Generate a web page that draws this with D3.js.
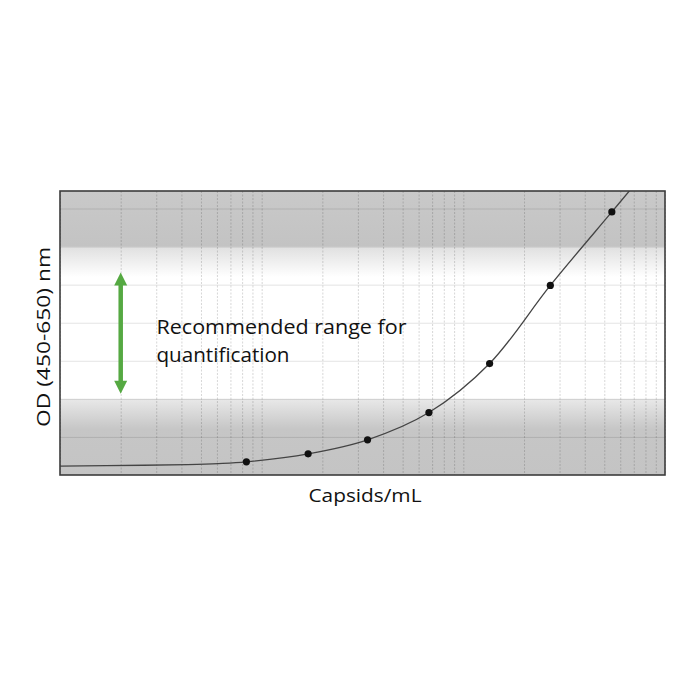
<!DOCTYPE html>
<html>
<head>
<meta charset="utf-8">
<script src="https://cdn.jsdelivr.net/npm/d3@7"></script>
<style>
  html, body { margin: 0; padding: 0; background: #fff; }
  svg { display: block; }
  text { font-family: "Open Sans", "DejaVu Sans", sans-serif; fill: #111; }
</style>
</head>
<body>
<svg id="chart" width="700" height="700"></svg>
<script>
// standard points (capsids/mL vs OD)
const conc = [8.4e8, 1.7e9, 3.35e9, 6.75e9, 1.35e10, 2.7e10, 5.45e10];
const od = [0.173, 0.278, 0.462, 0.82, 1.464, 2.49, 3.455];

// fitted curve
const fitConc = [1e8, 2.6e8, 4.3e8, 6.1e8, 8.4e8, 1.7e9, 3.35e9, 6.75e9, 1.35e10, 2.7e10, 5.45e10, 7e10];
const fitOD = [0.117, 0.128, 0.137, 0.15, 0.173, 0.278, 0.462, 0.82, 1.464, 2.49, 3.455, 3.8];

// recommended range for quantification (OD)
const rangeLow = 1.0;
const rangeHigh = 3.0;

const xDomain = [1e8, 1e11];
const yDomain = [0, 3.73];
const yTicks = [0.5, 1, 1.5, 2, 2.5, 3, 3.5];

const margin = { left: 60, right: 35, top: 191, bottom: 225 };
const width = 700, height = 700;

const svg = d3.select("#chart");

const x = d3.scaleLog()
  .domain(xDomain)
  .range([margin.left, width - margin.right]);

const y = d3.scaleLinear()
  .domain(yDomain)
  .range([height - margin.bottom, margin.top]);

const pw = x.range()[1] - x.range()[0];
const ph = y.range()[0] - y.range()[1];

// background shading
const defs = svg.append("defs");
const grad = defs.append("linearGradient")
  .attr("id", "bg")
  .attr("gradientUnits", "userSpaceOnUse")
  .attr("x1", 0).attr("x2", 0)
  .attr("y1", y.range()[1]).attr("y2", y.range()[0]);
const off = v => (y(v) - y.range()[1]) / ph;
[
  [0, "#c9c9c9"],
  [off(rangeHigh) - 0.002, "#c3c3c3"],
  [off(rangeHigh) + 0.002, "#e0e0e0"],
  [off(2.6), "#ffffff"],
  [off(rangeLow) - 0.002, "#ffffff"],
  [off(rangeLow) + 0.002, "#e8e8e8"],
  [off(0.6), "#c6c6c6"],
  [1, "#c4c4c4"]
].forEach(([o, c]) => grad.append("stop").attr("offset", o).attr("stop-color", c));

defs.append("clipPath").attr("id", "clip")
  .append("rect")
  .attr("x", x.range()[0]).attr("y", y.range()[1])
  .attr("width", pw).attr("height", ph);

svg.append("rect")
  .attr("x", x.range()[0]).attr("y", y.range()[1])
  .attr("width", pw).attr("height", ph)
  .attr("fill", "url(#bg)");

// grid: dotted verticals on the log axis, solid horizontals
svg.append("g")
  .attr("stroke", "#000")
  .attr("stroke-opacity", 0.16)
  .attr("stroke-dasharray", "2,1.5")
  .selectAll("line")
  .data(x.ticks())
  .join("line")
  .attr("x1", d => x(d) + 0.5).attr("x2", d => x(d) + 0.5)
  .attr("y1", y.range()[1]).attr("y2", y.range()[0]);

svg.append("g")
  .attr("stroke", "#000")
  .attr("stroke-opacity", 0.11)
  .selectAll("line")
  .data(yTicks)
  .join("line")
  .attr("x1", x.range()[0]).attr("x2", x.range()[1])
  .attr("y1", d => y(d) + 0.5).attr("y2", d => y(d) + 0.5);

// fitted curve
const line = d3.line()
  .x((d, i) => x(fitConc[i]))
  .y(d => y(d))
  .curve(d3.curveCatmullRom.alpha(0.5));

svg.append("path")
  .datum(fitOD)
  .attr("clip-path", "url(#clip)")
  .attr("fill", "none")
  .attr("stroke", "#444")
  .attr("stroke-width", 1.3)
  .attr("d", line);

svg.append("g")
  .selectAll("circle")
  .data(od)
  .join("circle")
  .attr("cx", (d, i) => x(conc[i]))
  .attr("cy", d => y(d))
  .attr("r", 3.6)
  .attr("fill", "#111");

// frame
svg.append("rect")
  .attr("x", x.range()[0]).attr("y", y.range()[1])
  .attr("width", pw).attr("height", ph)
  .attr("fill", "none")
  .attr("stroke", "#3c3c3c")
  .attr("stroke-width", 1.6);

// green double arrow showing the recommended range
const ax = x(2e8);
const green = "#55a942";
const aTop = y(rangeHigh) + 26, aBot = y(rangeLow) - 5;
svg.append("line")
  .attr("x1", ax).attr("x2", ax)
  .attr("y1", aTop + 10).attr("y2", aBot - 10)
  .attr("stroke", green)
  .attr("stroke-width", 4.5);
svg.append("path")
  .attr("fill", green)
  .attr("d", `M${ax},${aTop} L${ax - 6.5},${aTop + 13} L${ax + 6.5},${aTop + 13} Z`);
svg.append("path")
  .attr("fill", green)
  .attr("d", `M${ax},${aBot} L${ax - 6.5},${aBot - 13} L${ax + 6.5},${aBot - 13} Z`);

svg.append("text")
  .attr("x", 156.5).attr("y", 334)
  .attr("font-size", 19.5)
  .attr("textLength", 250)
  .attr("lengthAdjust", "spacingAndGlyphs")
  .text("Recommended range for");
svg.append("text")
  .attr("x", 156.5).attr("y", 361.5)
  .attr("font-size", 19.5)
  .attr("textLength", 133)
  .attr("lengthAdjust", "spacingAndGlyphs")
  .text("quantification");

// axis titles
svg.append("text")
  .attr("x", 365).attr("y", 502)
  .attr("text-anchor", "middle")
  .attr("font-size", 18)
  .attr("textLength", 113)
  .attr("lengthAdjust", "spacingAndGlyphs")
  .text("Capsids/mL");

svg.append("text")
  .attr("transform", "translate(50,337) rotate(-90)")
  .attr("text-anchor", "middle")
  .attr("font-size", 18)
  .attr("textLength", 180)
  .attr("lengthAdjust", "spacingAndGlyphs")
  .text("OD (450-650) nm");
</script>
</body>
</html>
